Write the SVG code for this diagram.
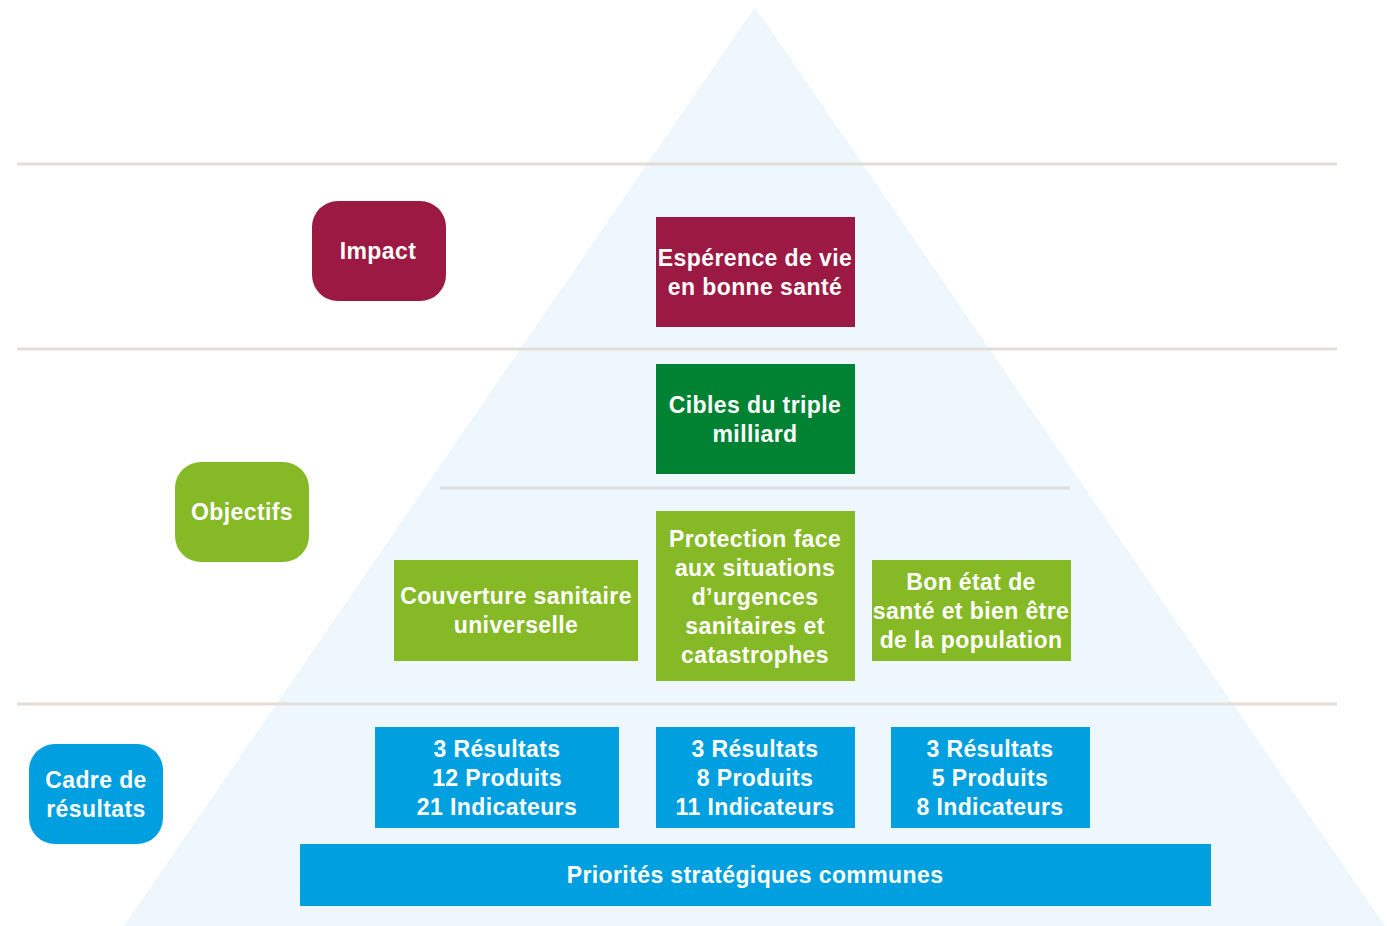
<svg xmlns="http://www.w3.org/2000/svg" width="1387" height="926" viewBox="0 0 1387 926">
  <style>
    .t { font-family: "Liberation Sans", Arial, sans-serif; font-weight: bold; font-size: 23px; letter-spacing: 0.4px; fill: #ffffff; text-anchor: middle; }
    .rule { stroke: #e3ddd8; stroke-width: 3; }
    .rule-in { stroke: #dcdcdc; stroke-width: 3; }
    .red { fill: #9b1942; }
    .dgreen { fill: #008233; }
    .lgreen { fill: #86b926; }
    .blue { fill: #009fe0; }
  </style>
  <rect width="1387" height="926" fill="#ffffff"/>
  <!-- background pyramid -->
  <polygon points="755,7 124,926 1385,926" fill="#eef7fd"/>
  <!-- level separators -->
  <g id="separators">
    <line class="rule" x1="17" y1="164" x2="1337" y2="164"/>
    <line class="rule" x1="17" y1="349" x2="1337" y2="349"/>
    <line class="rule-in" x1="440" y1="488" x2="1070" y2="488"/>
    <line class="rule" x1="17" y1="704" x2="1337" y2="704"/>
  </g>
  <g id="connectors"></g>

  <g id="impact">
    <rect class="red" x="312" y="201" width="134" height="100" rx="26"/>
    <text class="t" x="378" y="259">Impact</text>
  </g>
  <g id="esperance">
    <rect class="red" x="656" y="217" width="199" height="110"/>
    <text class="t" x="755" y="266">Espérence de vie</text>
    <text class="t" x="755" y="295">en bonne santé</text>
  </g>
  <g id="cibles">
    <rect class="dgreen" x="656" y="364" width="199" height="110"/>
    <text class="t" x="755" y="413">Cibles du triple</text>
    <text class="t" x="755" y="442">milliard</text>
  </g>
  <g id="objectifs">
    <rect class="lgreen" x="175" y="462" width="134" height="100" rx="26"/>
    <text class="t" x="242" y="520">Objectifs</text>
  </g>
  <g id="couverture">
    <rect class="lgreen" x="394" y="560" width="244" height="101"/>
    <text class="t" x="516" y="604">Couverture sanitaire</text>
    <text class="t" x="516" y="633">universelle</text>
  </g>
  <g id="protection">
    <rect class="lgreen" x="656" y="511" width="199" height="170"/>
    <text class="t" x="755" y="547">Protection face</text>
    <text class="t" x="755" y="576">aux situations</text>
    <text class="t" x="755" y="605">d’urgences</text>
    <text class="t" x="755" y="634">sanitaires et</text>
    <text class="t" x="755" y="663">catastrophes</text>
  </g>
  <g id="bon-etat">
    <rect class="lgreen" x="872" y="560" width="199" height="101"/>
    <text class="t" x="971" y="590">Bon état de</text>
    <text class="t" x="971" y="619">santé et bien être</text>
    <text class="t" x="971" y="648">de la population</text>
  </g>
  <g id="cadre">
    <rect class="blue" x="29" y="744" width="134" height="100" rx="26"/>
    <text class="t" x="96" y="788">Cadre de</text>
    <text class="t" x="96" y="817">résultats</text>
  </g>
  <g id="resultats-1">
    <rect class="blue" x="375" y="727" width="244" height="101"/>
    <text class="t" x="497" y="757">3 Résultats</text>
    <text class="t" x="497" y="786">12 Produits</text>
    <text class="t" x="497" y="815">21 Indicateurs</text>
  </g>
  <g id="resultats-2">
    <rect class="blue" x="656" y="727" width="199" height="101"/>
    <text class="t" x="755" y="757">3 Résultats</text>
    <text class="t" x="755" y="786">8 Produits</text>
    <text class="t" x="755" y="815">11 Indicateurs</text>
  </g>
  <g id="resultats-3">
    <rect class="blue" x="891" y="727" width="199" height="101"/>
    <text class="t" x="990" y="757">3 Résultats</text>
    <text class="t" x="990" y="786">5 Produits</text>
    <text class="t" x="990" y="815">8 Indicateurs</text>
  </g>
  <g id="priorites">
    <rect class="blue" x="300" y="844" width="911" height="62"/>
    <text class="t" x="755" y="883">Priorités stratégiques communes</text>
  </g>
</svg>
